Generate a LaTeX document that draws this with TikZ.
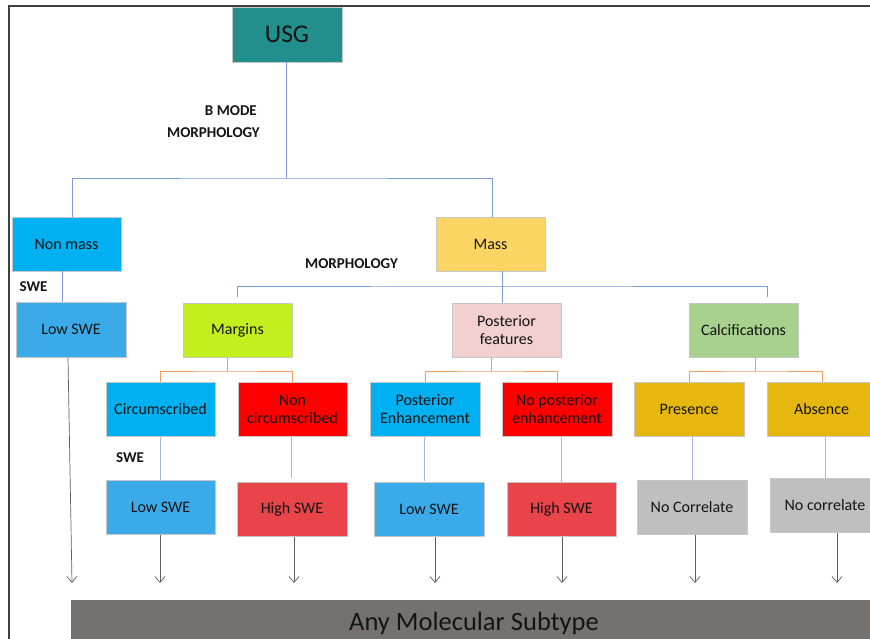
\documentclass[tikz,border=0pt]{standalone}
\usepackage{fontspec}
\setmainfont{Carlito}
\usetikzlibrary{arrows.meta}
\definecolor{cteal}{HTML}{228F8C}
\definecolor{cblue}{HTML}{00B0F0}
\definecolor{cblueb}{HTML}{3AAAE8}
\definecolor{cmass}{HTML}{FAD564}
\definecolor{clime}{HTML}{C3EF1E}
\definecolor{cpink}{HTML}{F2D0D0}
\definecolor{cgreen}{HTML}{A9D18E}
\definecolor{cred}{HTML}{FF0000}
\definecolor{credb}{HTML}{E8444A}
\definecolor{cgold}{HTML}{E6B70E}
\definecolor{cgray}{HTML}{BFBFBF}
\definecolor{cbar}{HTML}{767171}
\definecolor{lblue}{HTML}{7C9BDF}
\definecolor{lorange}{HTML}{EE9E5E}
\definecolor{lpale}{HTML}{A6B8D9}
\definecolor{larrow}{HTML}{5E5E5E}
\definecolor{cframe}{HTML}{404040}
\begin{document}
\begin{tikzpicture}[x=1pt,y=-1pt,
  box/.style={draw=black!22, line width=0.6pt, minimum width=109pt, minimum height=54pt,
    inner sep=0pt, align=center, font=\fontsize{16}{18}\selectfont, text=black!92},
  lbl/.style={font=\fontsize{15}{17}\selectfont\bfseries, text=black!92, inner sep=0pt},
  bline/.style={draw=lblue, line width=0.9pt},
  oline/.style={draw=lorange, line width=1pt},
  pline/.style={draw=lpale, line width=0.9pt},
  arr/.style={draw=larrow, line width=0.7pt, -{Straight Barb[length=6pt,width=10pt,line width=0.7pt]}}
]
\useasboundingbox (0,0) rectangle (870,639);
\fill[white] (-2,-2) rectangle (872,641);
% frame
\draw[cframe, line width=1.6pt] (9,639) -- (9,6) -- (870,6);

% nodes
\node[box, fill=cteal, minimum width=110pt, minimum height=55pt, font=\fontsize{25.5}{28}\selectfont] (usg) at (287,34.5) {USG};
\node[box, fill=cblue] (nonmass) at (66.5,244) {Non mass};
\node[box, fill=cmass] (mass) at (490.5,244) {Mass};
\node[box, fill=cblueb, minimum width=110pt, minimum height=55pt] (lowswe0) at (71,329.5) {Low SWE};
\node[box, fill=clime] (margins) at (237.5,330) {Margins};
\node[box, fill=cpink] (postf) at (506.5,330) {Posterior\\features};
\node[box, fill=cgreen] (calc) at (743.5,330) {Calcifications};
\node[box, fill=cblue] (circ) at (160.5,409.5) {Circumscribed};
\node[box, fill=cred] (noncirc) at (292.5,409.5) {Non\\circumscribed};
\node[box, fill=cblue, minimum width=110pt] (postenh) at (425,409.5) {Posterior\\Enhancement};
\node[box, fill=cred, minimum width=110pt] (nopost) at (557,409.5) {No posterior\\enhancement};
\node[box, fill=cgold, minimum width=110pt] (pres) at (689,409.5) {Presence};
\node[box, fill=cgold] (abs) at (821.5,409.5) {Absence};
\node[box, fill=cblueb] (lowswe1) at (160.5,507.5) {Low SWE};
\node[box, fill=credb, minimum width=110pt] (highswe1) at (292,509.5) {High SWE};
\node[box, fill=cblueb, minimum width=110pt] (lowswe2) at (429,509.5) {Low SWE};
\node[box, fill=credb] (highswe2) at (561.5,509.5) {High SWE};
\node[box, fill=cgray, minimum width=110pt] (nocorr1) at (692,507.5) {No Correlate};
\node[box, fill=cgray, minimum width=110pt] (nocorr2) at (825,505.5) {No correlate};
\node[box, fill=cbar, draw=none, minimum width=806pt, minimum height=46pt, font=\fontsize{26.5}{30}\selectfont, text=black!92] (bar) at (474,623) {Any Molecular Subtype};

% labels
\node[lbl, anchor=east] (bmode) at (257,111) {B MODE};
\node[lbl, anchor=east] (morph1) at (260,133) {MORPHOLOGY};
\node[lbl] (morph2) at (351.5,264) {MORPHOLOGY};
\node[lbl] (swe1) at (33.5,287) {SWE};
\node[lbl] (swe2) at (130,458) {SWE};

% blue tree
\coordinate (j1) at (286,178);
\draw[bline] (usg.south -| j1) -- (j1);
\draw[bline] (nonmass.north -| 72,0) |- (j1) -| (mass.north -| 492,0);
\coordinate (j2) at (502,286);
\draw[bline] (mass.south -| j2) -- (postf.north -| j2);
\draw[bline] ([yshift=6pt]margins.north) |- (j2) -| ([xshift=23.5pt,yshift=6pt]calc.north);
\draw[bline] (nonmass.south -| 62,0) -- (lowswe0.north -| 62,0);

% orange trees
\coordinate (o1) at (227,371);
\draw[oline] (margins.south -| o1) -- (o1);
\draw[oline] (circ.north) |- (o1) -| (noncirc.north);
\coordinate (o2) at (491,371);
\draw[oline] (postf.south -| o2) -- (o2);
\draw[oline] (postenh.north) |- (o2) -| (nopost.north);
\coordinate (o3) at (755,371);
\draw[oline] (calc.south -| o3) -- (o3);
\draw[oline] (pres.north) |- (o3) -| (abs.north -| 822,0);

% level 3 -> 4
\draw[pline] (circ.south) -- (lowswe1.north -| circ.south);
\draw[pline] (noncirc.south -| 291,0) -- (291,478);
\draw[pline] (postenh.south -| 424,0) -- (424,481);
\draw[pline] (nopost.south -| 561,0) -- (highswe2.north -| 561,0);
\draw[pline] (pres.south -| nocorr1.north) -- (nocorr1.north);
\draw[pline] (abs.south -| nocorr2.north) -- (nocorr2.north);

% arrows to bar
\coordinate (a0) at (72,583);
\coordinate (a1) at (160,583);
\coordinate (a2) at (294,583);
\coordinate (a3) at (435,583);
\coordinate (a4) at (562,583);
\coordinate (a5) at (695,583);
\coordinate (a6) at (837,583);
\draw[arr] ([xshift=-3pt]lowswe0.south) -- (a0);
\draw[arr] (lowswe1.south -| a1) -- (a1);
\draw[arr] (highswe1.south -| a2) -- (a2);
\draw[arr] (lowswe2.south -| a3) -- (a3);
\draw[arr] (highswe2.south -| a4) -- (a4);
\draw[arr] (nocorr1.south -| a5) -- (a5);
\draw[arr] (nocorr2.south -| a6) -- (a6);
\end{tikzpicture}
\end{document}
